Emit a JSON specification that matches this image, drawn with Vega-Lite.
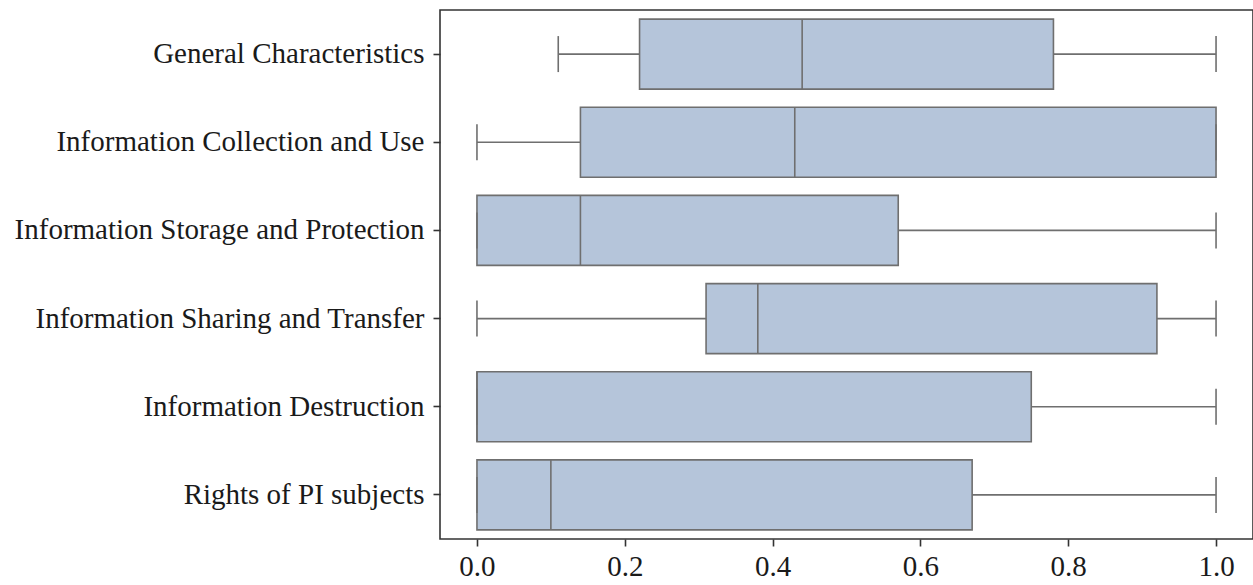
{
  "$schema": "https://vega.github.io/schema/vega-lite/v6.json",
  "autosize": {"type": "none"},
  "padding": {"left": 440, "top": 10, "right": 0, "bottom": 46},
  "width": 813,
  "height": 529,
  "background": "white",
  "config": {
    "view": {"stroke": "#333333", "strokeWidth": 1.6},
    "axis": {
      "labelFont": "Liberation Serif",
      "labelFontSize": 29,
      "labelColor": "#1a1a1a",
      "domain": false,
      "grid": false,
      "tickColor": "#333333",
      "tickSize": 7,
      "tickWidth": 1.6,
      "title": null
    }
  },
  "data": {
    "values": [
      {"cat": "General Characteristics", "lo": 0.11, "q1": 0.22, "med": 0.44, "q3": 0.78, "hi": 1.0},
      {"cat": "Information Collection and Use", "lo": 0.0, "q1": 0.14, "med": 0.43, "q3": 1.0, "hi": 1.0},
      {"cat": "Information Storage and Protection", "lo": 0.0, "q1": 0.0, "med": 0.14, "q3": 0.57, "hi": 1.0},
      {"cat": "Information Sharing and Transfer", "lo": 0.0, "q1": 0.31, "med": 0.38, "q3": 0.92, "hi": 1.0},
      {"cat": "Information Destruction", "lo": 0.0, "q1": 0.0, "med": 0.0, "q3": 0.75, "hi": 1.0},
      {"cat": "Rights of PI subjects", "lo": 0.0, "q1": 0.0, "med": 0.1, "q3": 0.67, "hi": 1.0}
    ]
  },
  "encoding": {
    "y": {
      "field": "cat",
      "type": "nominal",
      "sort": null,
      "scale": {"paddingInner": 0, "paddingOuter": 0},
      "axis": {"labelPadding": 9, "labelLimit": 500}
    }
  },
  "layer": [
    {
      "mark": {"type": "rule", "color": "#6f6f6f", "strokeWidth": 1.6},
      "encoding": {
        "x": {
          "field": "lo",
          "type": "quantitative",
          "scale": {"domain": [-0.05, 1.05], "nice": false, "zero": false},
          "axis": {"values": [0, 0.2, 0.4, 0.6, 0.8, 1.0], "format": ".1f", "labelPadding": 6}
        },
        "x2": {"field": "hi"}
      }
    },
    {
      "mark": {"type": "bar", "size": 70, "fill": "#b5c5da", "stroke": "#6f6f6f", "strokeWidth": 1.6},
      "encoding": {
        "x": {"field": "q1", "type": "quantitative"},
        "x2": {"field": "q3"}
      }
    },
    {
      "mark": {"type": "tick", "size": 70, "thickness": 1.6, "color": "#6f6f6f", "opacity": 1},
      "encoding": {"x": {"field": "med", "type": "quantitative"}}
    },
    {
      "mark": {"type": "tick", "size": 36, "thickness": 1.6, "color": "#6f6f6f", "opacity": 1},
      "encoding": {"x": {"field": "lo", "type": "quantitative"}}
    },
    {
      "mark": {"type": "tick", "size": 36, "thickness": 1.6, "color": "#6f6f6f", "opacity": 1},
      "encoding": {"x": {"field": "hi", "type": "quantitative"}}
    }
  ]
}
